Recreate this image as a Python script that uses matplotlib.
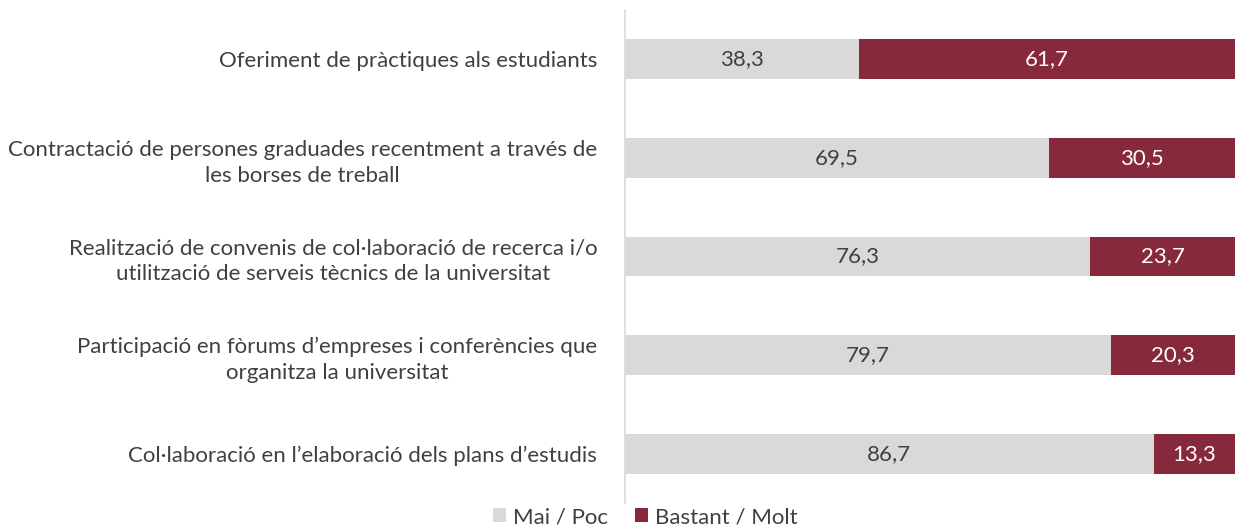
import matplotlib
matplotlib.use("Agg")
from matplotlib import pyplot as plt
import numpy as np

plt.rcParams['font.family'] = ['Lato', 'DejaVu Sans']

categories = [
    "Oferiment de pràctiques als estudiants",
    "Contractació de persones graduades recentment a través de\nles borses de treball",
    "Realització de convenis de col·laboració de recerca i/o\nutilització de serveis tècnics de la universitat",
    "Participació en fòrums d’empreses i conferències que\norganitza la universitat",
    "Col·laboració en l’elaboració dels plans d’estudis",
]
mai_poc = [38.3, 69.5, 76.3, 79.7, 86.7]
bastant_molt = [61.7, 30.5, 23.7, 20.3, 13.3]
series_names = ["Mai / Poc", "Bastant / Molt"]

gray = "#D9D9D9"
maroon = "#862A3B"
txt = "#404040"
fs = 16

fig = plt.figure(figsize=(12.35, 5.29), dpi=100)
ax = fig.add_axes([625 / 1235, 1 - 503 / 529, 1 - 625 / 1235, 493 / 529])

y = np.arange(len(categories))
h = 0.405
b1 = ax.barh(y, mai_poc, height=h, color=gray, label=series_names[0])
b2 = ax.barh(y, bastant_molt, left=mai_poc, height=h, color=maroon, label=series_names[1])

for i in range(len(categories)):
    ax.text(mai_poc[i] / 2, y[i], f"{mai_poc[i]:.1f}".replace(".", ","),
            ha="center", va="center", fontsize=fs, color=txt)
    ax.text(mai_poc[i] + bastant_molt[i] / 2, y[i], f"{bastant_molt[i]:.1f}".replace(".", ","),
            ha="center", va="center", fontsize=fs, color="white")

ax.set_xlim(0, 100)
ax.set_ylim(len(categories) - 0.5, -0.5)
ax.set_yticks(y)
ax.set_yticklabels(categories, fontsize=fs, color=txt, ha="right", multialignment="center",
                   linespacing=1.35)
ax.tick_params(axis="y", length=0, pad=20)
ax.set_xticks([])
for s in ["top", "right", "bottom"]:
    ax.spines[s].set_visible(False)
ax.spines["left"].set_color("#D9D9D9")
ax.spines["left"].set_linewidth(1.2)

leg = fig.legend(handles=[b1, b2], loc="center", bbox_to_anchor=(645 / 1235, 1 - 517 / 529),
                 ncol=2, frameon=False, fontsize=fs, handlelength=0.6, handleheight=0.6,
                 handletextpad=0.3, columnspacing=1.2, borderpad=0)
for t in leg.get_texts():
    t.set_color(txt)

fig.savefig("out.png", dpi=100)
